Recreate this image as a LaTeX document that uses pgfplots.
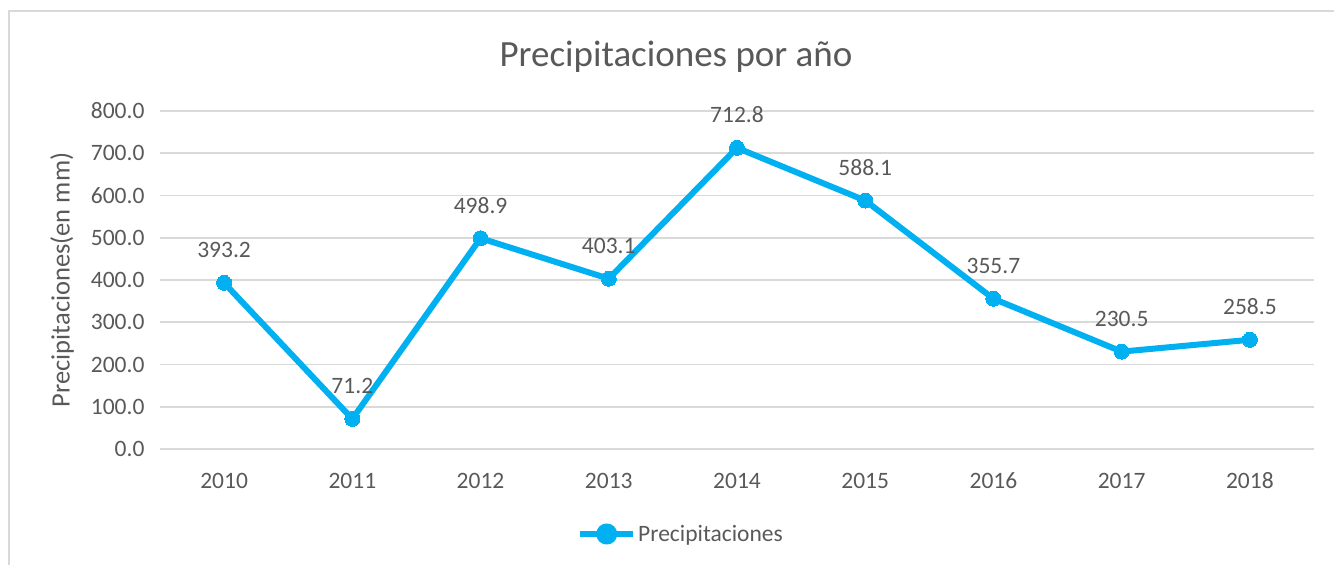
\documentclass[border=0pt]{standalone}
\usepackage{pgfplots}
\pgfplotsset{compat=1.18}
\usepackage{fontspec}
\setmainfont{Carlito}
\definecolor{txt}{HTML}{595959}
\definecolor{gridc}{HTML}{D9D9D9}
\definecolor{ln}{HTML}{00B0F0}
\begin{document}
\begin{tikzpicture}[x=1pt,y=1pt]
\path[use as bounding box] (0,0) rectangle (1334,565);
\draw[gridc, line width=1.8pt] (9,-20) rectangle (1360,554);
\begin{axis}[
  at={(160pt,116pt)}, anchor=south west,
  scale only axis, width=1154pt, height=338pt,
  xmin=-0.5, xmax=8.5, ymin=0, ymax=800,
  xtick={0,...,8},
  xticklabels={2010,2011,2012,2013,2014,2015,2016,2017,2018},
  ytick={0,100,...,800},
  ymajorgrids, xmajorgrids=false,
  y grid style={gridc, line width=1.6pt},
  axis line style={draw=none},
  major tick style={draw=none},
  /pgf/number format/assume math mode=true,
  yticklabel style={/pgf/number format/fixed, /pgf/number format/fixed zerofill, /pgf/number format/precision=1, xshift=-12pt},
  ticklabel style={font=\fontsize{23.5}{26}\selectfont, text=txt},
  xticklabel style={anchor=base, yshift=-40pt},
  clip=false,
  legend style={at={(0.4515,-0.2515)}, anchor=center, draw=none, fill=none,
    font=\fontsize{23.5}{26}\selectfont, text=txt},
  legend image code/.code={
    \draw[ln, line width=6pt] (0pt,0pt) -- (53pt,0pt);
    \fill[ln] (26.5pt,0pt) circle (7.5pt);
  },
]
\addplot[ln, line width=6pt, line join=round, mark=*, mark size=7.5pt,
  mark options={fill=ln, draw=ln, line width=0pt},
  nodes near coords,
  every node near coord/.append style={anchor=center, yshift=33pt,
     font=\fontsize{23.5}{26}\selectfont, text=txt,
     /pgf/number format/fixed, /pgf/number format/fixed zerofill, /pgf/number format/precision=1, /pgf/number format/assume math mode=true}]
coordinates {(0,393.2) (1,71.2) (2,498.9) (3,403.1) (4,712.8) (5,588.1) (6,355.7) (7,230.5) (8,258.5)};
\addlegendentry{Precipitaciones}
\end{axis}
\node[text=txt, font=\fontsize{37}{40}\selectfont] at (676,508) {Precipitaciones por año};
\node[text=txt, font=\fontsize{26.5}{29}\selectfont, rotate=90] at (62,285) {Precipitaciones(en mm)};
\end{tikzpicture}
\end{document}
